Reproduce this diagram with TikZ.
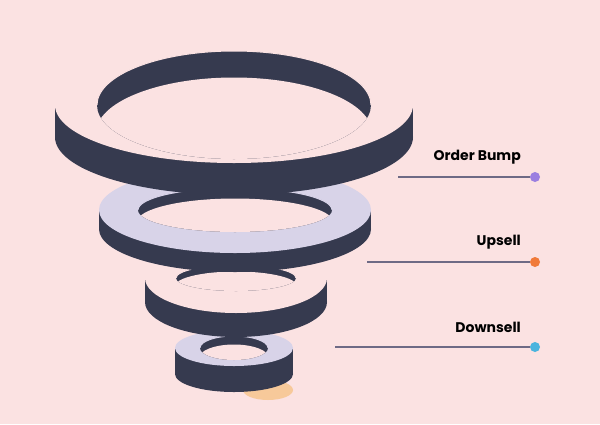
\documentclass[tikz,border=0pt]{standalone}
\usepackage{fontspec}
\setmainfont{Poppins}
\definecolor{bgpink}{HTML}{FBE2E2}
\definecolor{ringdark}{HTML}{363A4F}
\definecolor{ringlav}{HTML}{D8D3E8}
\definecolor{linegray}{HTML}{6E6A85}
\definecolor{dotpurple}{HTML}{9B7FE0}
\definecolor{dotorange}{HTML}{F07A3A}
\definecolor{dotblue}{HTML}{4BB4DE}
\definecolor{blob}{HTML}{F7C99A}
% #1 cx, #2 cy, #3 rx, #4 ry, #5 thickness, #6 hole rx, #7 hole ry, #8 top colour, #9 hole depth
\newcommand{\funnelring}[9]{%
  \fill[ringdark] (#1,{#2+#5}) ellipse[x radius=#3,y radius=#4];
  \fill[ringdark] ({#1-#3},#2) rectangle ({#1+#3},{#2+#5});
  \fill[#8] (#1,#2) ellipse[x radius=#3,y radius=#4];
  \fill[ringdark] (#1,#2) ellipse[x radius=#6,y radius=#7];
  \begin{scope}
    \clip (#1,#2) ellipse[x radius=#6,y radius=#7];
    \fill[bgpink] (#1,{#2+#9}) ellipse[x radius={#6+1},y radius={#7+1.5}];
  \end{scope}
  \draw[#8, line width=1pt] ({#1-#6},#2) arc[start angle=180,end angle=360,x radius=#6,y radius=#7];}
\tikzset{
  label/.style={font=\bfseries\fontsize{14}{16}\selectfont, text=black, anchor=east, inner sep=0pt},
  leader/.style={linegray, line width=1.3pt},
  dot/.style={circle, inner sep=0pt, minimum size=10pt}
}
\begin{document}
\begin{tikzpicture}[x=1pt,y=-1pt]
  \fill[bgpink] (0,0) rectangle (600,424);
  \useasboundingbox (0,0) rectangle (600,424);

  \fill[blob] (268,390) ellipse[x radius=25,y radius=10];

  % rings, bottom first
  \funnelring{234}{348}{59}{18}{26}{34}{12}{ringlav}{10}
  \funnelring{236}{278}{91}{35}{24}{60}{13}{bgpink}{8}
  \funnelring{235}{210}{136}{43}{19}{97}{22}{ringlav}{12}
  \funnelring{234}{105}{179}{58}{32}{137}{54}{bgpink}{28}

  % labels and leaders
  \node[label] (ob) at (521,157) {Order Bump};
  \coordinate (obs) at (398,177);
  \node[dot, fill=dotpurple] (obd) at (535,177) {};
  \draw[leader] (obs) -- (obd);

  \node[label] (up) at (521,242) {Upsell};
  \coordinate (ups) at (367,262);
  \node[dot, fill=dotorange] (upd) at (535,262) {};
  \draw[leader] (ups) -- (upd);

  \node[label] (dn) at (521,327) {Downsell};
  \coordinate (dns) at (335,347);
  \node[dot, fill=dotblue] (dnd) at (535,347) {};
  \draw[leader] (dns) -- (dnd);
\end{tikzpicture}
\end{document}
